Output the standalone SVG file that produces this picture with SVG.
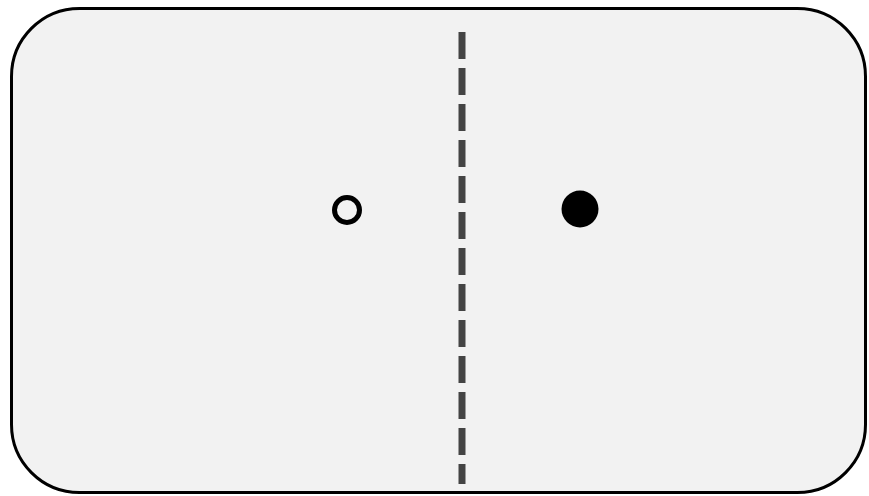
<svg xmlns="http://www.w3.org/2000/svg" width="869" height="496" viewBox="0 0 869 496">
<style>
.frame{fill:#f2f2f2;stroke:#000;stroke-width:3}
.divider{stroke:#444;stroke-width:7;stroke-dasharray:27 9;fill:none}
</style>
<rect width="869" height="496" fill="#fff"/>
<g id="frame"><rect class="frame" x="11.5" y="8.5" width="854" height="484" rx="68" ry="68"/></g>
<g id="connectors"><line class="divider" x1="462" y1="32" x2="462" y2="484"/></g>
<g id="open-point"><circle cx="347" cy="210" r="12.5" fill="none" stroke="#000" stroke-width="5"/></g>
<g id="filled-point"><circle cx="580" cy="209" r="18.5" fill="#000"/></g>
</svg>
